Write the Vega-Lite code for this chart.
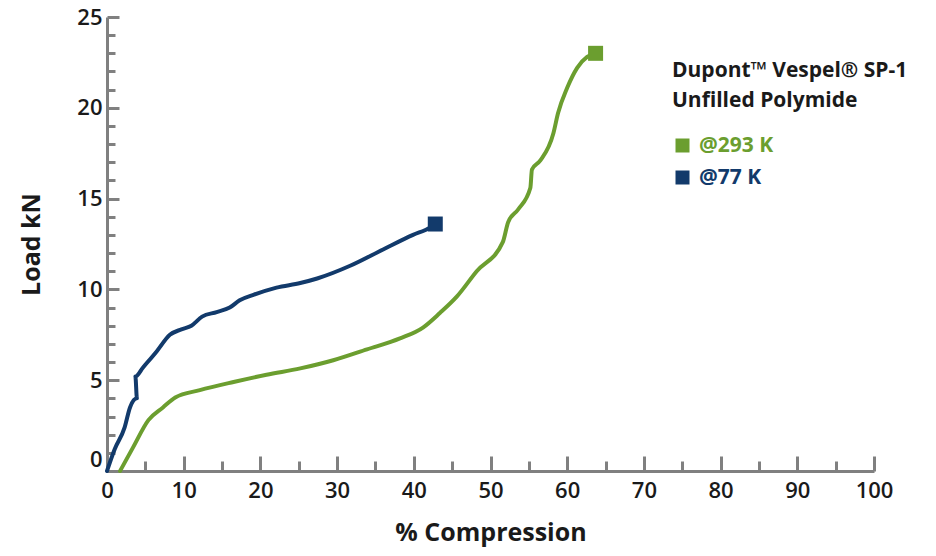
{
  "$schema": "https://vega.github.io/schema/vega-lite/v6.json",
  "autosize": "none",
  "width": 767,
  "height": 454,
  "padding": {"left": 107, "top": 17, "right": 62, "bottom": 85},
  "background": "white",
  "config": {
    "view": {"stroke": null},
    "font": "Open Sans"
  },
  "data": {
    "values": [
      {"series": "@77 K", "i": 0, "x": 0.0, "y": 0.0, "end": 0},
      {"series": "@77 K", "i": 1, "x": 1.0, "y": 1.2, "end": 0},
      {"series": "@77 K", "i": 2, "x": 2.3, "y": 2.4, "end": 0},
      {"series": "@77 K", "i": 3, "x": 3.0, "y": 3.5, "end": 0},
      {"series": "@77 K", "i": 4, "x": 3.9, "y": 4.0, "end": 0},
      {"series": "@77 K", "i": 5, "x": 3.7, "y": 5.2, "end": 0},
      {"series": "@77 K", "i": 6, "x": 4.7, "y": 5.7, "end": 0},
      {"series": "@77 K", "i": 7, "x": 6.5, "y": 6.6, "end": 0},
      {"series": "@77 K", "i": 8, "x": 8.2, "y": 7.5, "end": 0},
      {"series": "@77 K", "i": 9, "x": 9.7, "y": 7.8, "end": 0},
      {"series": "@77 K", "i": 10, "x": 11.0, "y": 8.0, "end": 0},
      {"series": "@77 K", "i": 11, "x": 12.4, "y": 8.5, "end": 0},
      {"series": "@77 K", "i": 12, "x": 14.3, "y": 8.75, "end": 0},
      {"series": "@77 K", "i": 13, "x": 16.0, "y": 9.0, "end": 0},
      {"series": "@77 K", "i": 14, "x": 17.3, "y": 9.4, "end": 0},
      {"series": "@77 K", "i": 15, "x": 19.1, "y": 9.7, "end": 0},
      {"series": "@77 K", "i": 16, "x": 22.1, "y": 10.1, "end": 0},
      {"series": "@77 K", "i": 17, "x": 25.2, "y": 10.35, "end": 0},
      {"series": "@77 K", "i": 18, "x": 27.4, "y": 10.6, "end": 0},
      {"series": "@77 K", "i": 19, "x": 31.7, "y": 11.3, "end": 0},
      {"series": "@77 K", "i": 20, "x": 36.0, "y": 12.2, "end": 0},
      {"series": "@77 K", "i": 21, "x": 39.9, "y": 13.0, "end": 0},
      {"series": "@77 K", "i": 22, "x": 42.1, "y": 13.4, "end": 0},
      {"series": "@77 K", "i": 23, "x": 42.8, "y": 13.6, "end": 1},
      {"series": "@293 K", "i": 0, "x": 1.7, "y": 0.0, "end": 0},
      {"series": "@293 K", "i": 1, "x": 3.4, "y": 1.3, "end": 0},
      {"series": "@293 K", "i": 2, "x": 5.4, "y": 2.8, "end": 0},
      {"series": "@293 K", "i": 3, "x": 7.3, "y": 3.5, "end": 0},
      {"series": "@293 K", "i": 4, "x": 8.9, "y": 4.05, "end": 0},
      {"series": "@293 K", "i": 5, "x": 12.1, "y": 4.45, "end": 0},
      {"series": "@293 K", "i": 6, "x": 16.5, "y": 4.9, "end": 0},
      {"series": "@293 K", "i": 7, "x": 20.8, "y": 5.3, "end": 0},
      {"series": "@293 K", "i": 8, "x": 25.2, "y": 5.65, "end": 0},
      {"series": "@293 K", "i": 9, "x": 29.5, "y": 6.1, "end": 0},
      {"series": "@293 K", "i": 10, "x": 33.9, "y": 6.7, "end": 0},
      {"series": "@293 K", "i": 11, "x": 38.2, "y": 7.3, "end": 0},
      {"series": "@293 K", "i": 12, "x": 41.2, "y": 7.9, "end": 0},
      {"series": "@293 K", "i": 13, "x": 43.4, "y": 8.7, "end": 0},
      {"series": "@293 K", "i": 14, "x": 45.6, "y": 9.6, "end": 0},
      {"series": "@293 K", "i": 15, "x": 48.2, "y": 11.0, "end": 0},
      {"series": "@293 K", "i": 16, "x": 51.6, "y": 12.6, "end": 0},
      {"series": "@293 K", "i": 17, "x": 52.3, "y": 13.7, "end": 0},
      {"series": "@293 K", "i": 18, "x": 53.6, "y": 14.4, "end": 0},
      {"series": "@293 K", "i": 19, "x": 55.2, "y": 15.6, "end": 0},
      {"series": "@293 K", "i": 20, "x": 55.4, "y": 16.6, "end": 0},
      {"series": "@293 K", "i": 21, "x": 56.5, "y": 17.1, "end": 0},
      {"series": "@293 K", "i": 22, "x": 58.2, "y": 18.6, "end": 0},
      {"series": "@293 K", "i": 23, "x": 58.8, "y": 19.7, "end": 0},
      {"series": "@293 K", "i": 24, "x": 60.0, "y": 21.1, "end": 0},
      {"series": "@293 K", "i": 25, "x": 61.3, "y": 22.2, "end": 0},
      {"series": "@293 K", "i": 26, "x": 62.6, "y": 22.8, "end": 0},
      {"series": "@293 K", "i": 27, "x": 63.7, "y": 23.0, "end": 1}
    ]
  },
  "encoding": {
    "x": {
      "field": "x", "type": "quantitative",
      "scale": {"domain": [0, 100], "nice": false, "zero": false},
      "axis": {
        "title": "% Compression",
        "values": [0,5,10,15,20,25,30,35,40,45,50,55,60,65,70,75,80,85,90,95,100],
        "labelExpr": "datum.value % 10 === 0 ? datum.label : ''",
        "grid": false,
        "domainColor": "#808080", "domainWidth": 3,
        "tickColor": "#808080", "tickWidth": 3,
        "tickSize": {"condition": {"test": "datum.value % 10 === 0", "value": -15}, "value": -10},
        "labelPadding": 24,
        "labelFont": "Open Sans", "labelFontSize": 22, "labelFontWeight": 600, "labelColor": "#1a1a1a",
        "labelFlush": false, "labelOverlap": false,
        "titleFont": "Open Sans", "titleFontSize": 25, "titleFontWeight": "bold", "titleColor": "#1a1a1a",
        "titlePadding": 14
      }
    },
    "y": {
      "field": "y", "type": "quantitative",
      "scale": {"domain": [0, 25], "nice": false, "zero": false},
      "axis": {
        "title": "Load kN",
        "values": [0,1,2,3,4,5,6,7,8,9,10,11,12,13,14,15,16,17,18,19,20,21,22,23,24,25],
        "labelExpr": "datum.value % 5 === 0 ? datum.label : ''",
        "grid": false,
        "domainColor": "#808080", "domainWidth": 3,
        "tickColor": "#808080", "tickWidth": 3,
        "tickSize": {"condition": {"test": "datum.value % 5 === 0", "value": -12}, "value": -8},
        "labelPadding": 17,
        "labelBaseline": {"condition": {"test": "datum.value === 0", "value": "bottom"}, "value": "middle"},
        "labelFont": "Open Sans", "labelFontSize": 22, "labelFontWeight": 600, "labelColor": "#1a1a1a",
        "labelFlush": false, "labelOverlap": false,
        "titleFont": "Open Sans", "titleFontSize": 25, "titleFontWeight": "bold", "titleColor": "#1a1a1a",
        "titlePadding": 32
      }
    },
    "color": {
      "field": "series", "type": "nominal",
      "scale": {"domain": ["@293 K", "@77 K"], "range": ["#6b9e2f", "#123a6b"]},
      "legend": {
        "orient": "none", "legendX": 565, "legendY": 43,
        "title": ["Dupont™ Vespel® SP-1", "Unfilled Polymide"],
        "titleFont": "Open Sans", "titleFontSize": 21, "titleFontWeight": "bold", "titleColor": "#1a1a1a",
        "titleLineHeight": 30, "titlePadding": 24, "titleLimit": 400,
        "symbolType": "square", "symbolSize": 196, "symbolStrokeWidth": 0,
        "labelFont": "Open Sans", "labelFontSize": 21, "labelFontWeight": "bold",
        "labelOffset": 6, "rowPadding": 10, "labelLimit": 300,
        "encode": {
          "labels": {"update": {"fill": {"signal": "scale('color', datum.value)"}}},
          "symbols": {"update": {"fill": {"signal": "scale('color', datum.value)"}, "opacity": {"value": 1}}}
        }
      }
    }
  },
  "layer": [
    {
      "mark": {"type": "line", "strokeWidth": 4, "interpolate": "monotone", "strokeJoin": "round", "strokeCap": "round"},
      "encoding": {"order": {"field": "i", "type": "quantitative"}, "detail": {"field": "series"}}
    },
    {
      "transform": [{"filter": "datum.end === 1"}],
      "mark": {"type": "square", "size": 225, "opacity": 1}
    }
  ]
}
